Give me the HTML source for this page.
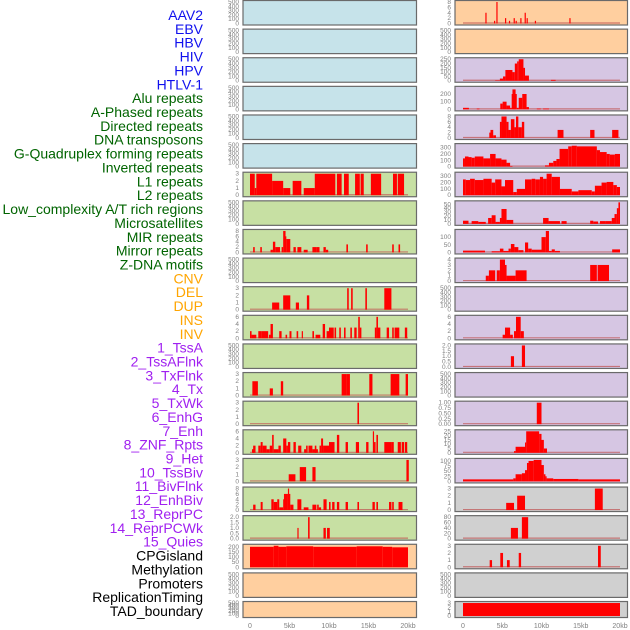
<!DOCTYPE html>
<html><head><meta charset="utf-8"><style>
body{margin:0;background:#fff;width:630px;height:630px;overflow:hidden}
svg{display:block}
</style></head><body>
<svg id="c" width="630" height="630" xmlns="http://www.w3.org/2000/svg"></svg>
<script>
const labels=["AAV2","EBV","HBV","HIV","HPV","HTLV-1","Alu repeats","A-Phased repeats","Directed repeats","DNA transposons","G-Quadruplex forming repeats","Inverted repeats","L1 repeats","L2 repeats","Low_complexity A/T rich regions","Microsatellites","MIR repeats","Mirror repeats","Z-DNA motifs","CNV","DEL","DUP","INS","INV","1_TssA","2_TssAFlnk","3_TxFlnk","4_Tx","5_TxWk","6_EnhG","7_Enh","8_ZNF_Rpts","9_Het","10_TssBiv","11_BivFlnk","12_EnhBiv","13_ReprPC","14_ReprPCWk","15_Quies","CPGisland","Methylation","Promoters","ReplicationTiming","TAD_boundary"];
const labelColors=["#1010ee","#1010ee","#1010ee","#1010ee","#1010ee","#1010ee","#006400","#006400","#006400","#006400","#006400","#006400","#006400","#006400","#006400","#006400","#006400","#006400","#006400","#ffa500","#ffa500","#ffa500","#ffa500","#ffa500","#a020f0","#a020f0","#a020f0","#a020f0","#a020f0","#a020f0","#a020f0","#a020f0","#a020f0","#a020f0","#a020f0","#a020f0","#a020f0","#a020f0","#a020f0","#000","#000","#000","#000","#000"];
const xTicks=[0,5,10,15,20];
const xTickLabels=["0","5kb","10kb","15kb","20kb"];
const E=[0,100,200,300,400,500];
const leftBg=["#c6e3ea","#c6e3ea","#c6e3ea","#c6e3ea","#c6e3ea","#c6e3ea","#c7e0a3","#c7e0a3","#c7e0a3","#c7e0a3","#c7e0a3","#c7e0a3","#c7e0a3","#c7e0a3","#c7e0a3","#c7e0a3","#c7e0a3","#c7e0a3","#c7e0a3","#ffcf9f","#ffcf9f","#ffcf9f"];
const rightBg=["#ffcf9f","#ffcf9f","#d6c6e3","#d6c6e3","#d6c6e3","#d6c6e3","#d6c6e3","#d6c6e3","#d6c6e3","#d6c6e3","#d6c6e3","#d6c6e3","#d6c6e3","#d6c6e3","#d6c6e3","#d6c6e3","#d6c6e3","#d0d0d0","#d0d0d0","#d0d0d0","#d0d0d0","#d0d0d0"];
const leftTicks=[E,E,E,E,E,E,[0,1,2,3],E,[0,2,4,6,8],E,[0,1,2,3],[0,2,4,6],E,[0,1,2,3],[0,1,2,3],[0,2,4,6],[0,1,2,3],[0,2,4,6,8],["0.0","0.5","1.0","1.5","2.0"],[0,50,100,150,200],E,E];
const leftMax=[500,500,500,500,500,500,3,500,8,500,3,6,500,3,3,6,3,8,2,210,500,500];
const rightTicks=[[0,2,4,6,8],E,[0,50,100,150,200,250],[0,100,200],[0,2,4,6,8],[0,100,200,300],[0,100,200,300],[0,10,20,30,40,50],[0,50,100],[0,1,2,3,4],E,[0,2,4,6],["0.0","0.5","1.0","1.5","2.0"],E,["0.00","0.25","0.50","0.75","1.00"],[0,5,10,15,20,25],[0,25,50,75,100],[0,1,2,3],[0,20,40,60,80],[0,1,2,3],E,[0,1,2,3]];
const rightMax=[8,500,250,280,8,340,340,55,140,4,500,6,2,500,1,25,105,3,80,3,500,3];
const leftData=[[],[],[],[],[],[],
[[0,0.6,3],[0.6,0.8,1],[0.8,2.8,3],[2.8,4.2,2],[4.2,5.1,1],[5.4,6.5,2],[6.8,8.2,1],[8.2,10.8,3],[11,11.6,3],[11.9,12.5,3],[13.3,13.9,3],[14,14.4,3],[15.3,16.6,3],[18.1,18.6,3],[18.7,19.5,3]],
[],
[[0.4,0.6,2],[1.3,1.5,2],[2.6,2.9,1],[2.9,3.2,4],[3.2,3.8,2],[4.0,4.2,2],[4.2,4.5,8],[4.4,4.6,6],[4.6,5.1,5],[5.5,5.8,2],[6.0,6.5,2],[6.8,7.3,1],[7.9,8.4,2],[8.4,8.8,2],[9.3,9.6,2],[9.6,9.9,1],[12.2,12.4,3],[14.7,14.9,3],[18.0,18.2,3],[18.8,19.0,3]],
[],
[[2.8,3.7,1],[4.2,5.1,2],[5.8,6.2,1],[7.2,7.5,2],[12.3,12.5,3],[12.8,13.0,3],[14.6,14.8,3],[17.0,17.9,3]],
[[0,0.2,2],[0.2,0.8,1],[1.05,1.5,2],[1.5,2.3,2],[2.4,2.6,1],[2.6,2.9,4],[3.7,4.0,2],[4.5,4.7,1],[5.0,5.25,2],[5.9,6.1,2],[6.55,6.7,2],[7.9,8.1,2],[8.3,8.9,1],[9.2,9.5,4],[9.7,10,2],[10,10.6,3],[10.7,10.9,3],[11.3,11.5,3],[11.9,12.1,3],[12.7,12.9,3],[13.2,13.5,3],[13.7,13.9,6],[13.9,14.1,3],[15.8,16.0,3],[16,16.2,6],[16.2,16.5,3],[17.3,17.6,3],[18,18.2,3],[18.3,18.9,3],[19.6,19.9,3]],
[],
[[0.3,1.0,2],[2.5,2.9,1],[3.9,4.2,2],[11.6,12.2,3],[12.2,12.65,3],[15.1,15.5,3],[17.8,18.9,3],[19.7,20,3]],
[[13.6,13.8,3]],
[[0.25,0.55,1],[0.4,0.7,2],[1.05,1.35,2],[1.35,1.6,3],[1.6,2.1,2],[2.1,2.5,1],[2.5,2.8,2],[2.8,3.0,5],[3.0,3.6,1],[3.6,3.9,2],[4.2,4.6,4],[4.6,4.8,2],[4.8,5.1,3],[5.5,5.8,3],[6.1,6.5,2],[6.85,7.1,1],[7.1,7.3,2],[7.4,7.9,2],[7.9,8.6,1],[8.2,8.4,2],[8.8,9.0,2],[9.0,9.25,4],[9.25,10,2],[10,10.7,3],[11,11.3,5],[12.1,12.4,3],[13.4,13.8,3],[14.7,15,3],[15.55,15.7,6],[15.7,15.9,3],[16,16.2,5],[17,17.9,3],[17.9,18.2,3],[18.7,19.1,3],[19.2,19.5,3],[19.6,19.9,3]],
[[4.9,5.75,1],[6.3,7.1,2],[7.9,8.3,2],[19.8,20.1,3]],
[[0.4,0.7,2],[1.35,1.6,3],[2.7,3.0,4],[3.0,3.45,3],[3.45,3.7,4],[3.7,4.2,1],[4.2,4.4,4],[4.3,4.8,6],[4.8,4.9,8],[4.9,5.1,6],[5.1,5.5,2],[6.0,6.5,4],[6.8,7.4,1],[7.9,8.4,2],[8.5,8.7,2],[8.7,9.0,1],[9.3,9.7,4],[10,10.2,3],[10.4,10.7,3],[11,11.3,3],[12.1,12.4,3],[13.6,13.8,3],[15.5,15.8,3],[16,16.2,3],[17.6,17.9,3],[18,18.2,3],[18.8,19.3,3]],
[[6.0,6.15,1],[7.35,7.55,2],[9.3,9.6,1],[9.75,10.1,1]],
[[0,3.0,200],[3.0,3.6,210],[3.6,4.6,200],[4.6,8.0,205],[8.0,13.5,200],[13.5,16.8,205],[16.8,18.0,200],[18.0,20,195]],
[],[]];
const rightData=[
[[2.85,3.0,4],[3.95,4.1,1],[4.25,4.4,8],[5.35,5.5,2],[5.85,6.0,1],[6.45,6.6,2],[6.7,6.85,1],[7.3,7.45,2],[7.85,8.0,4],[8.1,8.25,2],[9.15,9.3,1],[13.55,13.7,2]],
[],
[[4.1,4.7,5],[4.7,5.1,25],[5.1,5.4,50],[5.4,6.3,125],[6.3,6.6,100],[6.6,6.9,200],[6.9,7.1,225],[7.1,7.7,250],[7.7,7.9,150],[7.9,8.4,60],[11.2,11.8,10]],
[[0,0.75,20],[1.75,2.1,10],[4.75,5.05,75],[5.05,5.55,100],[5.55,6.0,50],[6.0,6.2,20],[6.2,6.85,200],[6.3,6.7,260],[6.85,7.1,20],[7.1,7.55,150],[7.55,8.1,200],[8.1,8.4,30],[9.4,9.9,10],[10.2,10.95,10]],
[[3.35,3.5,2],[3.5,3.85,3],[3.85,4.2,1],[4.7,4.9,6],[4.9,5.55,8],[5.55,5.8,6],[5.8,6.1,3],[6.1,6.55,7],[6.55,6.75,4],[6.75,7.05,8],[7.05,7.5,4],[7.5,7.8,6],[12.05,12.8,3],[16.2,16.75,3],[19,19.8,3]],
[[0,0.25,130],[0.25,0.7,160],[0.7,1.1,150],[1.1,1.5,140],[1.5,2.6,160],[2.6,3.45,130],[3.45,4.15,200],[4.15,4.9,130],[4.9,5.55,110],[5.55,6.0,60],[6.0,6.3,10],[10.45,10.95,20],[10.95,11.5,60],[11.5,11.9,90],[11.9,12.3,120],[12.3,13.4,280],[13.4,13.85,320],[13.85,14.5,330],[14.5,17.05,320],[17.05,17.45,260],[17.45,18.3,230],[18.3,18.7,200],[18.7,19.35,190],[19.35,20,200]],
[[0,0.35,250],[0.35,0.9,240],[0.9,1.5,260],[1.5,2.6,240],[2.6,3.65,260],[3.65,4.1,200],[4.1,4.9,250],[4.9,5.35,140],[5.35,6.4,240],[6.4,6.85,50],[6.85,7.9,100],[7.9,8.75,250],[8.75,9.2,260],[9.2,9.8,250],[9.8,10.2,290],[10.2,10.65,260],[10.65,11.3,340],[11.3,12.35,290],[12.35,13.85,100],[13.85,14.7,60],[14.7,16.4,80],[16.4,16.8,60],[16.8,17.65,150],[17.65,18.3,200],[18.3,19.15,210],[19.15,19.6,160],[19.6,20,130]],
[[0,0.7,8],[1.1,1.95,7],[1.95,2.9,5],[3.2,3.65,15],[3.65,4.15,22],[4.15,4.7,5],[4.7,4.9,15],[4.9,5.55,38],[5.55,6.4,10],[10.2,10.9,15],[10.9,12.35,7],[12.55,13.2,7],[16.2,16.6,8],[16.6,17.2,6],[17.45,18.1,7],[18.1,18.95,7],[18.95,19.3,15],[19.3,19.6,25],[19.6,19.8,40],[19.8,20,55]],
[[0,2.8,12],[3.65,4.7,8],[4.7,5.15,25],[5.15,5.8,10],[5.8,6.1,25],[6.1,6.55,55],[6.55,7.05,35],[7.05,7.7,15],[7.9,8.3,65],[8.3,8.75,25],[8.75,10,18],[10,10.55,100],[10.55,10.95,140],[10.95,11.3,10],[11.3,11.7,20],[11.7,12.35,10],[19,20,20]],
[[2.9,3.3,1],[3.3,4.1,2],[4.3,4.7,2],[4.7,5.35,4],[5.35,5.55,3],[5.55,6.7,1],[6.7,8.1,2],[16.2,17.05,3],[17.15,18.6,3]],
[],
[[5.05,5.35,1],[5.35,6.0,3],[6.0,6.35,1],[6.5,6.75,2],[6.75,7.35,6],[7.35,7.75,2]],
[[6.1,6.5,1],[7.5,7.9,2]],
[],
[[9.4,10,1]],
[[6.5,6.7,2],[6.7,7.9,7],[7.9,8.05,12],[8.05,9.7,25],[9.7,10,22],[10,10.3,15],[10.3,10.7,5]],
[[0,6.4,10],[6.4,6.7,15],[6.7,7.5,35],[7.5,7.9,40],[7.9,8.15,55],[8.15,8.35,90],[8.35,9.0,100],[9.0,10,105],[10,10.3,80],[10.3,10.5,35],[10.5,10.65,25],[10.65,11.5,15],[11.5,14.7,12],[14.7,20,10]],
[[5.5,6.5,1],[6.9,7.9,2],[16.8,17.8,3]],
[[6.1,7.0,40],[7.5,8.3,80]],
[[3.4,3.7,1],[4.75,5.1,2],[5.6,5.95,1],[7.1,7.4,2],[17.2,17.55,3]],
[],
[[0,20,3]]];

const svg=document.getElementById('c');
const NS='http://www.w3.org/2000/svg';
function mk(tag,attrs,parent){const e=document.createElementNS(NS,tag);for(const k in attrs)e.setAttribute(k,attrs[k]);(parent||svg).appendChild(e);return e;}
function rowTop(r){return 0.5+r*28.62;}
function rowH(r){return r===21?16:24.5;}
const cols=[{x0:243,x1:416.5,d0:250,d1:408,bg:leftBg,ticks:leftTicks,max:leftMax,data:leftData,name:'left'},
            {x0:455,x1:627.5,d0:463,d1:620,bg:rightBg,ticks:rightTicks,max:rightMax,data:rightData,name:'right'}];

// labels
labels.forEach((t,i)=>{
  const e=mk('text',{x:203,y:15+i*13.86+5,'text-anchor':'end','font-family':'Liberation Sans, sans-serif','font-size':14,fill:labelColors[i]});
  
  
  e.textContent=t;
});

cols.forEach(c=>{
  const xs=kb=>c.d0+(kb/20)*(c.d1-c.d0);
  for(let r=0;r<22;r++){
    const top=rowTop(r),h=rowH(r);
    const g=mk('g',{});
    
    
    mk('rect',{x:c.x0,y:top,width:c.x1-c.x0,height:h,fill:c.bg[r],stroke:'#6a6a6a','stroke-width':1.2},g);
    const yb=top+h-1.5,yt=top+1.5;
    const ys=v=>yb-(v/c.max[r])*(yb-yt);
    const ticks=c.ticks[r];
    const tmax=c.max[r];
    ticks.forEach(t=>{
      const v=parseFloat(t);
      const tx=mk('text',{x:c.x0-4,y:ys(v)+2,'text-anchor':'end','font-family':'Liberation Sans, sans-serif','font-size':6.5,fill:'#808080'},g);
      
      
      tx.textContent=t;
    });
    const segs=c.data[r];
    if(segs.length){
      const bl=mk('line',{x1:xs(0),x2:xs(20),y1:yb-0.5,y2:yb-0.5,stroke:'#c05050','stroke-width':1.2,opacity:0.7},g);
      
      
    }
    segs.forEach(s=>{
      const x=xs(s[0]),w=Math.max(1.2,xs(s[1])-xs(s[0]));
      const y=ys(Math.min(s[2],tmax));
      const b=mk('rect',{x:x,y:y,width:w,height:yb-y,fill:'#ff0000'},g);
      
      
    });
  }
  xTicks.forEach((t,i)=>{
    const tx=mk('text',{x:xs(t),y:628,'text-anchor':'middle','font-family':'Liberation Sans, sans-serif','font-size':7,fill:'#808080'});
    
    
    tx.textContent=xTickLabels[i];
  });
});
</script>
</body></html>
